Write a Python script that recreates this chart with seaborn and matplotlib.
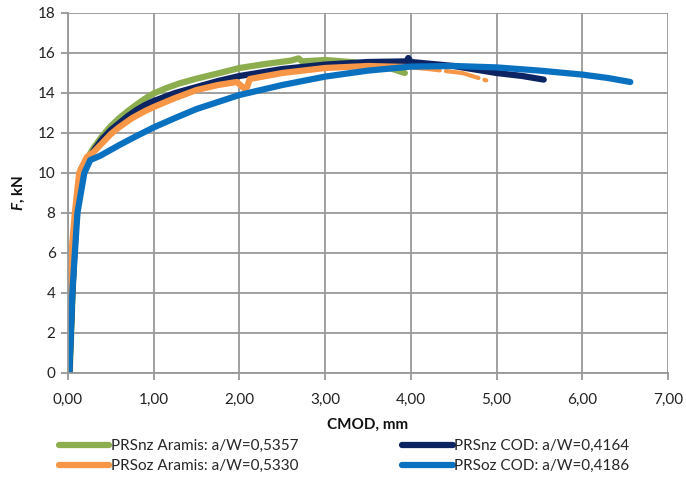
import numpy as np
import pandas as pd
import matplotlib
matplotlib.use("Agg")
import matplotlib.pyplot as plt
import seaborn as sns
from matplotlib.ticker import FuncFormatter, MultipleLocator

# CMOD [mm] / F [kN]
nz_aramis_x = [0.02, 0.08, 0.15, 0.29, 0.4, 0.5, 0.6, 0.7, 0.8, 0.9, 1.0, 1.15, 1.3, 1.5, 1.75, 2.0,
               2.3, 2.6, 2.69, 2.73, 3.0, 3.3, 3.56, 3.75, 3.93]
nz_aramis_f = [0, 7, 10.2, 11.2, 11.85, 12.35, 12.75, 13.1, 13.42, 13.72, 13.98, 14.25, 14.48, 14.72, 14.98, 15.25,
               15.45, 15.62, 15.73, 15.58, 15.65, 15.55, 15.4, 15.25, 15.0]

nz_cod_x = [0.015, 0.05, 0.1, 0.16, 0.24, 0.3, 0.4, 0.5, 0.6, 0.7, 0.8, 0.9, 1.0, 1.25, 1.5, 1.75, 2.0,
            2.5, 3.0, 3.5, 3.95, 3.97, 4.0, 4.5, 5.0, 5.3, 5.55]
nz_cod_f = [0, 4, 8, 10, 10.7, 11.12, 11.7, 12.15, 12.5, 12.85, 13.15, 13.4, 13.6, 14.0, 14.3, 14.6, 14.85,
            15.2, 15.42, 15.55, 15.58, 15.75, 15.55, 15.35, 15.0, 14.85, 14.67]

oz_aramis_x = [0.015, 0.05, 0.08, 0.13, 0.22, 0.3, 0.4, 0.5, 0.6, 0.75, 0.9, 1.0, 1.25, 1.5, 1.75, 1.97,
               2.05, 2.09, 2.12, 2.5, 3.0, 3.5, 3.95]
oz_aramis_f = [2.8, 6.5, 8, 10, 10.8, 11.05, 11.5, 11.95, 12.3, 12.75, 13.1, 13.3, 13.75, 14.15, 14.4, 14.55,
               14.25, 14.3, 14.7, 15.0, 15.25, 15.35, 15.3]
# tail of the orange curve is drawn dashed
oz_aramis_tail_x = [3.95, 4.2, 4.6, 4.88]
oz_aramis_tail_f = [15.3, 15.2, 15.0, 14.63]

oz_cod_x = [0.015, 0.05, 0.11, 0.19, 0.26, 0.37, 0.6, 0.8, 1.0, 1.25, 1.5, 1.75, 2.0, 2.5, 3.0, 3.5,
            4.0, 4.5, 5.0, 5.5, 6.0, 6.3, 6.56]
oz_cod_f = [0, 4, 8, 10, 10.65, 10.85, 11.4, 11.85, 12.28, 12.75, 13.2, 13.55, 13.9, 14.4, 14.82, 15.12,
            15.32, 15.35, 15.28, 15.12, 14.92, 14.75, 14.55]

labels = ["PRSnz Aramis: a/W=0,5357", "PRSnz COD: a/W=0,4164",
          "PRSoz Aramis: a/W=0,5330", "PRSoz COD: a/W=0,4186"]
colors = ["#8CAE4F", "#0D2463", "#F79646", "#0A70C0"]

sns.set_theme(style="whitegrid")
plt.rcParams["font.family"] = ["Lato", "DejaVu Sans"]
plt.rcParams["mathtext.fontset"] = "custom"
plt.rcParams["mathtext.it"] = "Lato:italic:bold"
plt.rcParams["mathtext.rm"] = "Lato:bold"

fig = plt.figure(figsize=(6.86, 4.83), dpi=100)
ax = fig.add_axes([68 / 686, 1 - 373 / 483, 600 / 686, 360 / 483])

series = [(nz_aramis_x, nz_aramis_f), (nz_cod_x, nz_cod_f), (oz_aramis_x, oz_aramis_f), (oz_cod_x, oz_cod_f)]
for (xs, fs), lab, col in zip(series, labels, colors):
    d = pd.DataFrame({"CMOD": xs, "F": fs})
    sns.lineplot(data=d, x="CMOD", y="F", sort=False, estimator=None, color=col,
                 linewidth=3.0, label=lab, ax=ax, solid_capstyle="round", solid_joinstyle="round")
    if lab.startswith("PRSoz Aramis"):
        t = pd.DataFrame({"CMOD": oz_aramis_tail_x, "F": oz_aramis_tail_f})
        sns.lineplot(data=t, x="CMOD", y="F", sort=False, estimator=None, color=col,
                     linewidth=3.0, ax=ax, linestyle=(0, (8, 1.5)), dash_capstyle="round",
                     legend=False)

ax.set_xlim(0, 7)
ax.set_ylim(0, 18)
ax.xaxis.set_major_locator(MultipleLocator(1))
ax.yaxis.set_major_locator(MultipleLocator(2))
ax.xaxis.set_major_formatter(FuncFormatter(lambda v, p: f"{v:.2f}".replace(".", ",")))
ax.grid(True, color="#989898", linewidth=1.3)
ax.set_facecolor("white")
for s in ["top", "right"]:
    ax.spines[s].set_visible(False)
for s in ["left", "bottom"]:
    ax.spines[s].set_color("#989898")
    ax.spines[s].set_linewidth(1.3)
ax.tick_params(axis="both", which="major", length=5, width=1.3, color="#989898",
               labelsize=11, labelcolor="#222222", direction="out", bottom=True, left=True)
ax.tick_params(axis="x", pad=9)
ax.tick_params(axis="y", pad=4)

ax.set_xlabel("CMOD, mm", fontsize=11, fontweight="bold", labelpad=8, color="#111111")
ax.set_ylabel(r"$F$, kN", fontsize=11, fontweight="bold", labelpad=8, color="#111111")

handles, labs = ax.get_legend_handles_labels()
ax.get_legend().remove()
for h in handles:
    h.set_linewidth(4.5)
# legend fills column-wise: green/orange left, navy/blue right
order = [0, 2, 1, 3]
fig.legend([handles[i] for i in order], [labs[i] for i in order], ncol=2, loc="upper left",
           bbox_to_anchor=(59 / 686, 1 - 439 / 483), frameon=False, fontsize=11,
           handlelength=3.3, handletextpad=0.1, columnspacing=6.8, labelspacing=0.4,
           borderaxespad=0, borderpad=0)

fig.savefig("out.png", dpi=100)
